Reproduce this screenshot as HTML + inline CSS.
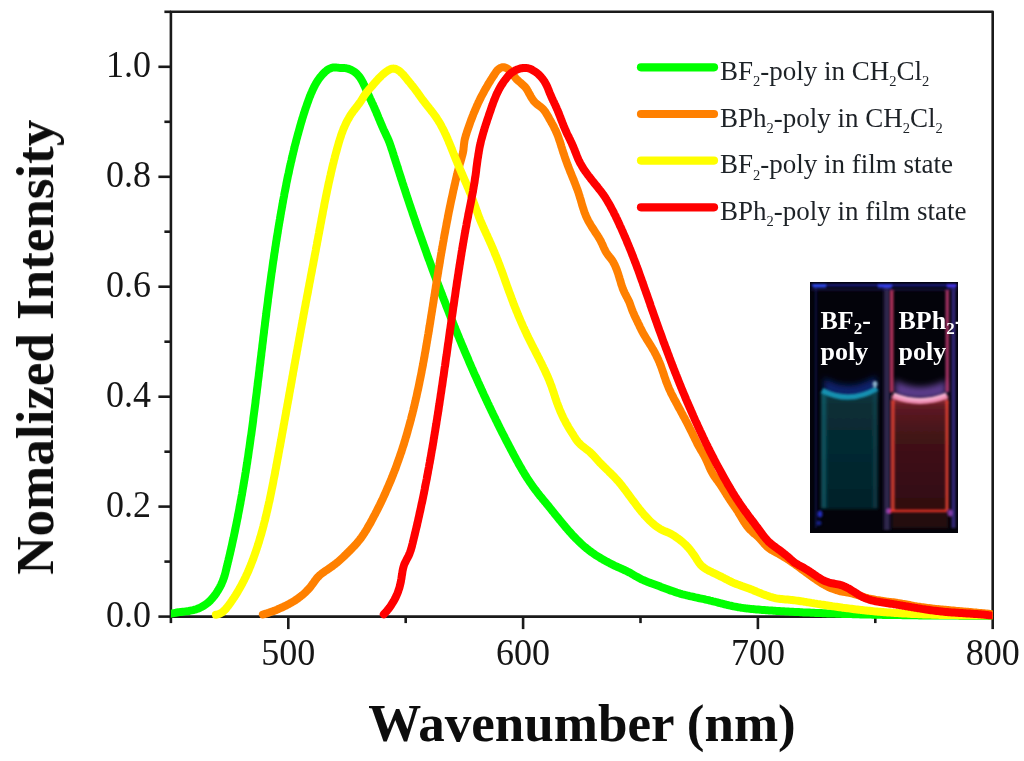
<!DOCTYPE html>
<html><head><meta charset="utf-8">
<style>
html,body{margin:0;padding:0;background:#fff;}
svg{display:block;}
text{font-family:"Liberation Serif",serif;}
.tl{font-size:36px;fill:#141414;}
.leg{font-size:27px;fill:#1e2228;}
.sub{font-size:14.5px;}
.ins{font-size:26px;font-weight:bold;fill:#fff;}
.isub{font-size:17px;}
.ttl{font-size:53px;font-weight:bold;fill:#0a0a0a;}
</style></head>
<body>
<svg width="1024" height="761" viewBox="0 0 1024 761">
<rect width="1024" height="761" fill="#ffffff"/>
<defs><filter id="soft" x="-5%" y="-20%" width="110%" height="140%"><feGaussianBlur stdDeviation="0.45"/></filter><filter id="soft2" x="-2%" y="-2%" width="104%" height="104%"><feGaussianBlur stdDeviation="0.4"/></filter></defs>
<rect x="170.9" y="11.8" width="821.8" height="604.8" fill="none" stroke="#1a1a1a" stroke-width="2.6" stroke-linejoin="round"/>
<g stroke="#1a1a1a" stroke-width="2.6">
<line x1="158.4" y1="616.6" x2="170.9" y2="616.6"/>
<line x1="164.4" y1="561.6" x2="170.9" y2="561.6"/>
<line x1="158.4" y1="506.6" x2="170.9" y2="506.6"/>
<line x1="164.4" y1="451.7" x2="170.9" y2="451.7"/>
<line x1="158.4" y1="396.7" x2="170.9" y2="396.7"/>
<line x1="164.4" y1="341.7" x2="170.9" y2="341.7"/>
<line x1="158.4" y1="286.7" x2="170.9" y2="286.7"/>
<line x1="164.4" y1="231.7" x2="170.9" y2="231.7"/>
<line x1="158.4" y1="176.8" x2="170.9" y2="176.8"/>
<line x1="164.4" y1="121.8" x2="170.9" y2="121.8"/>
<line x1="158.4" y1="66.8" x2="170.9" y2="66.8"/>
<line x1="164.4" y1="11.8" x2="170.9" y2="11.8"/>
<line x1="170.9" y1="616.6" x2="170.9" y2="623.1"/>
<line x1="288.3" y1="616.6" x2="288.3" y2="629.1"/>
<line x1="405.7" y1="616.6" x2="405.7" y2="623.1"/>
<line x1="523.1" y1="616.6" x2="523.1" y2="629.1"/>
<line x1="640.5" y1="616.6" x2="640.5" y2="623.1"/>
<line x1="757.9" y1="616.6" x2="757.9" y2="629.1"/>
<line x1="875.3" y1="616.6" x2="875.3" y2="623.1"/>
<line x1="992.7" y1="616.6" x2="992.7" y2="629.1"/>
</g>
<clipPath id="plotclip"><rect x="170.9" y="0" width="821.8" height="640"/></clipPath>
<g filter="url(#soft2)"><g fill="none" stroke-width="8" stroke-linejoin="round" stroke-linecap="round" clip-path="url(#plotclip)">
<path d="M171.0 613.7 L172.4 613.4 L173.9 613.1 L175.4 612.8 L176.8 612.5 L178.3 612.3 L179.8 612.1 L181.3 612.0 L182.8 611.8 L184.3 611.6 L185.8 611.4 L187.3 611.2 L188.8 611.0 L190.3 610.7 L191.8 610.4 L193.2 610.1 L194.7 609.7 L196.1 609.3 L197.5 608.8 L198.9 608.2 L200.3 607.6 L201.6 606.9 L203.0 606.2 L204.2 605.4 L205.5 604.5 L206.7 603.6 L207.9 602.7 L209.0 601.7 L210.1 600.7 L211.1 599.6 L212.1 598.5 L213.1 597.4 L214.0 596.2 L214.9 595.1 L215.8 593.9 L216.6 592.6 L217.4 591.4 L218.2 590.1 L218.9 588.8 L219.7 587.5 L220.4 586.1 L221.1 584.8 L221.7 583.4 L222.3 582.0 L222.9 580.6 L223.4 579.2 L223.9 577.8 L224.4 576.3 L224.8 574.9 L225.2 573.5 L225.6 572.0 L225.9 570.6 L226.3 569.1 L226.6 567.6 L227.0 566.2 L227.3 564.7 L227.7 563.3 L228.0 561.8 L228.4 560.4 L228.7 558.9 L229.1 557.5 L229.4 556.0 L229.8 554.5 L230.1 553.1 L230.4 551.6 L230.8 550.2 L231.1 548.7 L231.4 547.2 L231.8 545.8 L232.1 544.3 L232.4 542.8 L232.7 541.4 L233.0 539.9 L233.4 538.4 L233.7 537.0 L234.0 535.5 L234.3 534.0 L234.6 532.6 L234.9 531.1 L235.2 529.6 L235.5 528.2 L235.8 526.7 L236.1 525.2 L236.4 523.8 L236.7 522.3 L237.0 520.8 L237.3 519.3 L237.6 517.9 L237.9 516.4 L238.1 514.9 L238.4 513.5 L238.7 512.0 L239.0 510.5 L239.3 509.0 L239.5 507.6 L239.8 506.1 L240.1 504.6 L240.4 503.1 L240.6 501.6 L240.9 500.2 L241.2 498.7 L241.4 497.2 L241.7 495.7 L242.0 494.3 L242.2 492.8 L242.5 491.3 L242.7 489.8 L243.0 488.3 L243.2 486.9 L243.5 485.4 L243.7 483.9 L244.0 482.4 L244.2 480.9 L244.5 479.5 L244.7 478.0 L245.0 476.5 L245.2 475.0 L245.4 473.5 L245.7 472.1 L245.9 470.6 L246.1 469.1 L246.4 467.6 L246.6 466.1 L246.8 464.6 L247.1 463.2 L247.3 461.7 L247.5 460.2 L247.7 458.7 L248.0 457.2 L248.2 455.7 L248.4 454.3 L248.6 452.8 L248.8 451.3 L249.0 449.8 L249.3 448.3 L249.5 446.8 L249.7 445.4 L249.9 443.9 L250.1 442.4 L250.3 440.9 L250.5 439.4 L250.7 437.9 L250.9 436.5 L251.2 435.0 L251.4 433.5 L251.6 432.0 L251.8 430.5 L252.0 429.0 L252.2 427.5 L252.4 426.1 L252.6 424.6 L252.8 423.1 L253.0 421.6 L253.2 420.1 L253.3 418.6 L253.5 417.1 L253.7 415.6 L253.9 414.2 L254.1 412.7 L254.3 411.2 L254.5 409.7 L254.7 408.2 L254.9 406.7 L255.1 405.2 L255.3 403.8 L255.5 402.3 L255.6 400.8 L255.8 399.3 L256.0 397.8 L256.2 396.3 L256.4 394.8 L256.6 393.3 L256.8 391.8 L256.9 390.4 L257.1 388.9 L257.3 387.4 L257.5 385.9 L257.7 384.4 L257.8 382.9 L258.0 381.4 L258.2 379.9 L258.4 378.5 L258.6 377.0 L258.8 375.5 L258.9 374.0 L259.1 372.5 L259.3 371.0 L259.5 369.5 L259.6 368.0 L259.8 366.5 L260.0 365.1 L260.2 363.6 L260.4 362.1 L260.5 360.6 L260.7 359.1 L260.9 357.6 L261.1 356.1 L261.3 354.6 L261.4 353.1 L261.6 351.7 L261.8 350.2 L262.0 348.7 L262.2 347.2 L262.3 345.7 L262.5 344.2 L262.7 342.7 L262.9 341.2 L263.1 339.7 L263.2 338.2 L263.4 336.8 L263.6 335.3 L263.8 333.8 L264.0 332.3 L264.1 330.8 L264.3 329.3 L264.5 327.8 L264.7 326.3 L264.9 324.8 L265.0 323.4 L265.2 321.9 L265.4 320.4 L265.6 318.9 L265.8 317.4 L266.0 315.9 L266.2 314.4 L266.3 312.9 L266.5 311.4 L266.7 310.0 L266.9 308.5 L267.1 307.0 L267.3 305.5 L267.5 304.0 L267.7 302.5 L267.9 301.0 L268.0 299.5 L268.2 298.0 L268.4 296.6 L268.6 295.1 L268.8 293.6 L269.0 292.1 L269.2 290.6 L269.4 289.1 L269.6 287.6 L269.8 286.1 L270.0 284.7 L270.2 283.2 L270.4 281.7 L270.6 280.2 L270.8 278.7 L271.0 277.2 L271.2 275.7 L271.4 274.2 L271.6 272.8 L271.9 271.3 L272.1 269.8 L272.3 268.3 L272.5 266.8 L272.7 265.3 L272.9 263.8 L273.1 262.4 L273.3 260.9 L273.6 259.4 L273.8 257.9 L274.0 256.4 L274.2 254.9 L274.4 253.4 L274.7 252.0 L274.9 250.5 L275.1 249.0 L275.3 247.5 L275.6 246.0 L275.8 244.5 L276.0 243.1 L276.2 241.6 L276.5 240.1 L276.7 238.6 L276.9 237.1 L277.2 235.6 L277.4 234.2 L277.7 232.7 L277.9 231.2 L278.1 229.7 L278.4 228.2 L278.6 226.8 L278.9 225.3 L279.1 223.8 L279.4 222.3 L279.6 220.8 L279.9 219.4 L280.1 217.9 L280.4 216.4 L280.6 214.9 L280.9 213.5 L281.1 212.0 L281.4 210.5 L281.7 209.0 L281.9 207.6 L282.2 206.1 L282.4 204.6 L282.7 203.1 L283.0 201.7 L283.2 200.2 L283.5 198.7 L283.8 197.2 L284.1 195.8 L284.3 194.3 L284.6 192.8 L284.9 191.4 L285.2 189.9 L285.5 188.4 L285.8 186.9 L286.1 185.5 L286.3 184.0 L286.6 182.5 L286.9 181.1 L287.2 179.6 L287.5 178.1 L287.8 176.7 L288.1 175.2 L288.5 173.7 L288.8 172.3 L289.1 170.8 L289.4 169.3 L289.7 167.9 L290.0 166.4 L290.4 164.9 L290.7 163.5 L291.0 162.0 L291.4 160.6 L291.7 159.1 L292.0 157.6 L292.4 156.2 L292.7 154.7 L293.1 153.3 L293.4 151.8 L293.8 150.4 L294.1 148.9 L294.5 147.4 L294.8 146.0 L295.2 144.5 L295.6 143.1 L296.0 141.6 L296.3 140.2 L296.7 138.7 L297.1 137.3 L297.5 135.8 L297.9 134.4 L298.3 132.9 L298.7 131.5 L299.1 130.0 L299.5 128.6 L299.9 127.1 L300.3 125.7 L300.7 124.2 L301.1 122.8 L301.6 121.3 L302.0 119.9 L302.4 118.4 L302.9 117.0 L303.3 115.6 L303.8 114.1 L304.2 112.7 L304.7 111.3 L305.1 109.8 L305.6 108.4 L306.1 107.0 L306.6 105.6 L307.1 104.1 L307.6 102.7 L308.1 101.3 L308.6 99.9 L309.1 98.5 L309.6 97.1 L310.2 95.8 L310.7 94.4 L311.3 93.0 L311.9 91.7 L312.5 90.3 L313.1 89.0 L313.8 87.6 L314.4 86.3 L315.1 85.0 L315.9 83.7 L316.6 82.4 L317.4 81.1 L318.3 79.8 L319.1 78.6 L320.0 77.4 L321.0 76.2 L322.0 75.0 L323.0 73.9 L324.1 72.8 L325.2 71.7 L326.4 70.7 L327.6 69.8 L328.9 69.1 L330.2 68.4 L331.5 67.9 L332.9 67.5 L334.3 67.4 L335.8 67.4 L337.3 67.6 L338.8 67.8 L340.3 67.9 L341.8 68.0 L343.3 68.0 L344.9 68.1 L346.4 68.3 L347.8 68.6 L349.3 69.1 L350.7 69.7 L352.0 70.3 L353.3 71.1 L354.6 71.9 L355.7 72.8 L356.8 73.8 L357.8 74.9 L358.8 76.0 L359.7 77.1 L360.5 78.3 L361.3 79.6 L362.0 80.9 L362.7 82.2 L363.4 83.5 L364.0 84.9 L364.7 86.3 L365.3 87.6 L365.9 89.0 L366.5 90.4 L367.1 91.8 L367.7 93.2 L368.3 94.6 L369.0 96.0 L369.6 97.4 L370.2 98.8 L370.9 100.1 L371.5 101.5 L372.1 102.9 L372.8 104.2 L373.4 105.6 L374.0 106.9 L374.6 108.3 L375.2 109.7 L375.8 111.0 L376.4 112.4 L376.9 113.8 L377.5 115.1 L378.1 116.5 L378.6 117.9 L379.2 119.2 L379.8 120.6 L380.3 122.0 L380.9 123.3 L381.5 124.7 L382.1 126.1 L382.7 127.5 L383.3 128.9 L383.9 130.2 L384.6 131.6 L385.2 133.0 L385.9 134.4 L386.5 135.8 L387.2 137.2 L387.8 138.5 L388.4 139.9 L389.0 141.3 L389.5 142.7 L390.0 144.1 L390.5 145.5 L391.0 146.9 L391.4 148.3 L391.9 149.7 L392.4 151.1 L392.8 152.5 L393.3 153.9 L393.7 155.4 L394.2 156.8 L394.6 158.2 L395.1 159.6 L395.5 161.0 L396.0 162.5 L396.5 163.9 L396.9 165.3 L397.4 166.7 L397.8 168.1 L398.3 169.6 L398.7 171.0 L399.2 172.4 L399.7 173.9 L400.1 175.3 L400.6 176.7 L401.0 178.2 L401.5 179.6 L402.0 181.0 L402.4 182.4 L402.9 183.9 L403.4 185.3 L403.8 186.7 L404.3 188.2 L404.8 189.6 L405.2 191.0 L405.7 192.5 L406.2 193.9 L406.6 195.3 L407.1 196.7 L407.6 198.2 L408.1 199.6 L408.5 201.0 L409.0 202.4 L409.5 203.9 L410.0 205.3 L410.4 206.7 L410.9 208.1 L411.4 209.6 L411.9 211.0 L412.4 212.4 L412.8 213.8 L413.3 215.3 L413.8 216.7 L414.3 218.1 L414.8 219.5 L415.3 220.9 L415.7 222.3 L416.2 223.8 L416.7 225.2 L417.2 226.6 L417.7 228.0 L418.2 229.4 L418.7 230.9 L419.2 232.3 L419.7 233.7 L420.2 235.1 L420.7 236.5 L421.2 237.9 L421.7 239.3 L422.2 240.8 L422.7 242.2 L423.2 243.6 L423.7 245.0 L424.2 246.4 L424.7 247.8 L425.2 249.2 L425.7 250.6 L426.2 252.0 L426.7 253.5 L427.2 254.9 L427.7 256.3 L428.2 257.7 L428.7 259.1 L429.3 260.5 L429.8 261.9 L430.3 263.3 L430.8 264.7 L431.3 266.1 L431.8 267.5 L432.3 268.9 L432.9 270.4 L433.4 271.8 L433.9 273.2 L434.4 274.6 L434.9 276.0 L435.5 277.4 L436.0 278.8 L436.5 280.2 L437.0 281.6 L437.6 283.0 L438.1 284.4 L438.6 285.8 L439.2 287.2 L439.7 288.6 L440.2 290.0 L440.8 291.4 L441.3 292.8 L441.8 294.2 L442.4 295.6 L442.9 297.0 L443.4 298.4 L444.0 299.8 L444.5 301.2 L445.1 302.6 L445.6 304.0 L446.1 305.4 L446.7 306.8 L447.2 308.2 L447.8 309.6 L448.3 311.0 L448.9 312.4 L449.4 313.8 L450.0 315.2 L450.5 316.6 L451.1 318.0 L451.6 319.4 L452.2 320.8 L452.7 322.2 L453.3 323.6 L453.9 325.0 L454.4 326.3 L455.0 327.7 L455.5 329.1 L456.1 330.5 L456.7 331.9 L457.2 333.3 L457.8 334.7 L458.4 336.1 L459.0 337.5 L459.5 338.9 L460.1 340.2 L460.7 341.6 L461.2 343.0 L461.8 344.4 L462.4 345.8 L463.0 347.2 L463.6 348.6 L464.1 349.9 L464.7 351.3 L465.3 352.7 L465.9 354.1 L466.5 355.5 L467.1 356.8 L467.7 358.2 L468.3 359.6 L468.8 361.0 L469.4 362.4 L470.0 363.7 L470.6 365.1 L471.2 366.5 L471.8 367.9 L472.4 369.2 L473.0 370.6 L473.6 372.0 L474.2 373.4 L474.8 374.7 L475.5 376.1 L476.1 377.5 L476.7 378.8 L477.3 380.2 L477.9 381.6 L478.5 382.9 L479.1 384.3 L479.8 385.7 L480.4 387.0 L481.0 388.4 L481.6 389.8 L482.2 391.1 L482.9 392.5 L483.5 393.9 L484.1 395.2 L484.8 396.6 L485.4 397.9 L486.0 399.3 L486.7 400.7 L487.3 402.0 L487.9 403.4 L488.6 404.7 L489.2 406.1 L489.9 407.4 L490.5 408.8 L491.2 410.2 L491.8 411.5 L492.5 412.9 L493.1 414.2 L493.8 415.6 L494.4 416.9 L495.1 418.2 L495.7 419.6 L496.4 420.9 L497.1 422.3 L497.7 423.6 L498.4 425.0 L499.1 426.3 L499.7 427.7 L500.4 429.0 L501.1 430.3 L501.7 431.7 L502.4 433.0 L503.1 434.3 L503.8 435.7 L504.5 437.0 L505.1 438.3 L505.8 439.7 L506.5 441.0 L507.2 442.3 L507.9 443.7 L508.6 445.0 L509.3 446.3 L510.0 447.7 L510.7 449.0 L511.4 450.3 L512.1 451.6 L512.8 453.0 L513.5 454.3 L514.2 455.6 L514.9 456.9 L515.6 458.2 L516.3 459.5 L517.1 460.9 L517.8 462.2 L518.5 463.5 L519.2 464.8 L520.0 466.1 L520.7 467.4 L521.5 468.7 L522.2 470.0 L523.0 471.3 L523.8 472.6 L524.5 473.8 L525.3 475.1 L526.1 476.4 L526.9 477.7 L527.7 478.9 L528.6 480.2 L529.4 481.4 L530.2 482.7 L531.1 483.9 L531.9 485.1 L532.8 486.4 L533.7 487.6 L534.6 488.8 L535.5 490.0 L536.4 491.2 L537.3 492.4 L538.2 493.6 L539.2 494.8 L540.1 496.0 L541.1 497.1 L542.1 498.3 L543.0 499.5 L544.0 500.6 L544.9 501.8 L545.9 502.9 L546.8 504.1 L547.8 505.2 L548.7 506.4 L549.6 507.5 L550.6 508.7 L551.5 509.8 L552.4 511.0 L553.4 512.1 L554.3 513.3 L555.2 514.5 L556.2 515.6 L557.1 516.8 L558.0 517.9 L559.0 519.1 L559.9 520.3 L560.9 521.4 L561.8 522.6 L562.8 523.7 L563.7 524.9 L564.7 526.0 L565.6 527.2 L566.6 528.3 L567.6 529.5 L568.6 530.6 L569.6 531.7 L570.6 532.8 L571.6 534.0 L572.6 535.1 L573.6 536.2 L574.6 537.2 L575.7 538.3 L576.7 539.4 L577.8 540.4 L578.9 541.5 L580.0 542.5 L581.1 543.6 L582.2 544.6 L583.3 545.6 L584.4 546.6 L585.6 547.5 L586.7 548.5 L587.9 549.4 L589.1 550.4 L590.3 551.3 L591.5 552.2 L592.7 553.0 L594.0 553.9 L595.2 554.8 L596.5 555.6 L597.8 556.4 L599.1 557.2 L600.4 558.0 L601.7 558.8 L603.0 559.5 L604.3 560.3 L605.6 561.0 L606.9 561.7 L608.3 562.4 L609.6 563.1 L611.0 563.8 L612.3 564.5 L613.6 565.1 L615.0 565.8 L616.3 566.4 L617.6 567.0 L619.0 567.6 L620.3 568.2 L621.6 568.8 L623.0 569.4 L624.3 570.0 L625.6 570.6 L626.9 571.2 L628.2 571.9 L629.6 572.6 L630.9 573.3 L632.2 574.1 L633.5 574.9 L634.9 575.7 L636.2 576.4 L637.5 577.2 L638.9 577.9 L640.2 578.6 L641.6 579.3 L642.9 579.9 L644.3 580.5 L645.7 581.1 L647.0 581.7 L648.4 582.2 L649.8 582.7 L651.2 583.3 L652.6 583.8 L654.0 584.3 L655.4 584.8 L656.8 585.3 L658.2 585.8 L659.6 586.3 L661.0 586.9 L662.4 587.4 L663.8 587.9 L665.3 588.5 L666.7 589.0 L668.1 589.5 L669.5 590.1 L671.0 590.6 L672.4 591.1 L673.8 591.6 L675.3 592.1 L676.7 592.6 L678.1 593.0 L679.6 593.4 L681.0 593.9 L682.5 594.3 L683.9 594.6 L685.4 595.0 L686.8 595.4 L688.2 595.7 L689.7 596.1 L691.1 596.4 L692.6 596.7 L694.0 597.0 L695.5 597.4 L696.9 597.7 L698.4 598.0 L699.8 598.3 L701.3 598.6 L702.8 598.9 L704.2 599.2 L705.7 599.6 L707.1 599.9 L708.6 600.2 L710.0 600.6 L711.5 600.9 L713.0 601.3 L714.4 601.6 L715.9 602.0 L717.4 602.4 L718.8 602.8 L720.3 603.2 L721.7 603.5 L723.2 603.9 L724.7 604.3 L726.2 604.7 L727.6 605.0 L729.1 605.4 L730.6 605.7 L732.0 606.0 L733.5 606.4 L735.0 606.6 L736.5 606.9 L737.9 607.2 L739.4 607.4 L740.9 607.7 L742.4 607.9 L743.8 608.1 L745.3 608.3 L746.8 608.4 L748.3 608.6 L749.7 608.8 L751.2 608.9 L752.7 609.1 L754.2 609.2 L755.7 609.4 L757.2 609.5 L758.6 609.6 L760.1 609.7 L761.6 609.9 L763.1 610.0 L764.6 610.1 L766.1 610.2 L767.6 610.3 L769.0 610.4 L770.5 610.5 L772.0 610.6 L773.5 610.7 L775.0 610.8 L776.5 610.9 L778.0 611.0 L779.5 611.1 L781.0 611.2 L782.5 611.2 L783.9 611.3 L785.4 611.4 L786.9 611.5 L788.4 611.6 L789.9 611.7 L791.4 611.7 L792.9 611.8 L794.4 611.9 L795.9 612.0 L797.4 612.1 L798.9 612.1 L800.4 612.2 L801.9 612.3 L803.4 612.4 L804.9 612.4 L806.4 612.5 L807.9 612.6 L809.4 612.6 L810.9 612.7 L812.4 612.8 L813.9 612.8 L815.4 612.9 L816.9 613.0 L818.4 613.0 L819.9 613.1 L821.4 613.1 L822.9 613.2 L824.4 613.3 L825.9 613.3 L827.4 613.4 L828.9 613.4 L830.4 613.5 L831.9 613.5 L833.4 613.6 L834.9 613.6 L836.4 613.7 L837.9 613.7 L839.4 613.8 L840.9 613.8 L842.4 613.9 L843.9 613.9 L845.4 614.0 L847.0 614.0 L848.5 614.1 L850.0 614.1 L851.5 614.1 L853.0 614.2 L854.5 614.2 L856.0 614.3 L857.5 614.3 L859.0 614.3 L860.5 614.4 L862.0 614.4 L863.5 614.5 L865.0 614.5 L866.5 614.5 L868.0 614.6 L869.5 614.6 L871.0 614.6 L872.6 614.7 L874.1 614.7 L875.6 614.7 L877.1 614.7 L878.6 614.8 L880.1 614.8 L881.6 614.8 L883.1 614.9 L884.6 614.9 L886.1 614.9 L887.6 614.9 L889.1 615.0 L890.6 615.0 L892.1 615.0 L893.6 615.0 L895.1 615.1 L896.6 615.1 L898.1 615.1 L899.7 615.1 L901.2 615.1 L902.7 615.2 L904.2 615.2 L905.7 615.2 L907.2 615.2 L908.7 615.2 L910.2 615.3 L911.7 615.3 L913.2 615.3 L914.7 615.3 L916.2 615.3 L917.7 615.3 L919.2 615.4 L920.7 615.4 L922.2 615.4 L923.7 615.4 L925.2 615.4 L926.7 615.4 L928.2 615.4 L929.7 615.5 L931.2 615.5 L932.7 615.5 L934.2 615.5 L935.7 615.5 L937.2 615.5 L938.7 615.5 L940.2 615.5 L941.7 615.5 L943.2 615.6 L944.7 615.6 L946.2 615.6 L947.7 615.6 L949.2 615.6 L950.7 615.6 L952.2 615.6 L953.7 615.6 L955.1 615.6 L956.6 615.6 L958.1 615.6 L959.6 615.7 L961.1 615.7 L962.6 615.7 L964.1 615.7 L965.6 615.7 L967.1 615.7 L968.6 615.7 L970.1 615.7 L971.5 615.7 L973.0 615.7 L974.5 615.7 L976.0 615.7 L977.5 615.7 L979.0 615.8 L980.5 615.8 L981.9 615.8 L983.4 615.8 L984.9 615.8 L986.4 615.8 L987.9 615.8 L989.4 615.8 L990.8 615.8 L990.9 615.8" stroke="#00ff00"/>
<path d="M262.9 614.5 L264.3 614.1 L265.8 613.7 L267.2 613.2 L268.6 612.8 L270.0 612.3 L271.4 611.8 L272.9 611.3 L274.3 610.7 L275.7 610.2 L277.1 609.6 L278.4 609.0 L279.8 608.4 L281.2 607.8 L282.6 607.2 L283.9 606.5 L285.3 605.9 L286.6 605.2 L287.9 604.5 L289.3 603.8 L290.6 603.1 L291.9 602.3 L293.1 601.6 L294.4 600.8 L295.7 600.0 L296.9 599.1 L298.1 598.3 L299.3 597.4 L300.5 596.5 L301.7 595.5 L302.9 594.6 L304.0 593.6 L305.1 592.6 L306.2 591.5 L307.2 590.4 L308.3 589.3 L309.3 588.2 L310.3 587.1 L311.2 585.9 L312.1 584.7 L313.0 583.5 L313.9 582.2 L314.7 581.0 L315.6 579.8 L316.5 578.6 L317.4 577.5 L318.5 576.5 L319.5 575.4 L320.6 574.5 L321.8 573.5 L323.0 572.6 L324.2 571.8 L325.4 570.9 L326.7 570.1 L328.0 569.2 L329.2 568.4 L330.5 567.5 L331.7 566.7 L332.9 565.8 L334.1 564.9 L335.3 564.0 L336.5 563.0 L337.7 562.1 L338.8 561.1 L339.9 560.1 L341.0 559.1 L342.1 558.1 L343.2 557.1 L344.3 556.0 L345.4 555.0 L346.5 553.9 L347.5 552.9 L348.6 551.8 L349.7 550.8 L350.7 549.7 L351.8 548.6 L352.8 547.5 L353.9 546.4 L354.9 545.4 L355.9 544.2 L356.9 543.1 L357.8 542.0 L358.8 540.8 L359.7 539.7 L360.6 538.5 L361.5 537.3 L362.4 536.0 L363.2 534.8 L364.0 533.6 L364.8 532.3 L365.6 531.1 L366.4 529.8 L367.2 528.5 L367.9 527.2 L368.7 525.9 L369.4 524.6 L370.2 523.3 L370.9 522.0 L371.6 520.7 L372.3 519.4 L373.0 518.0 L373.7 516.7 L374.4 515.4 L375.1 514.1 L375.8 512.7 L376.5 511.4 L377.2 510.0 L377.9 508.7 L378.5 507.4 L379.2 506.0 L379.9 504.7 L380.5 503.3 L381.2 502.0 L381.8 500.6 L382.5 499.2 L383.1 497.9 L383.7 496.5 L384.4 495.1 L385.0 493.8 L385.6 492.4 L386.2 491.0 L386.8 489.6 L387.4 488.3 L388.0 486.9 L388.6 485.5 L389.2 484.1 L389.8 482.7 L390.4 481.3 L391.0 480.0 L391.5 478.6 L392.1 477.2 L392.6 475.8 L393.2 474.4 L393.7 473.0 L394.3 471.6 L394.8 470.2 L395.4 468.8 L395.9 467.4 L396.4 466.0 L396.9 464.5 L397.4 463.1 L397.9 461.7 L398.4 460.3 L398.9 458.9 L399.4 457.5 L399.9 456.1 L400.4 454.6 L400.9 453.2 L401.4 451.8 L401.8 450.4 L402.3 449.0 L402.7 447.5 L403.2 446.1 L403.7 444.7 L404.1 443.3 L404.5 441.8 L405.0 440.4 L405.4 439.0 L405.8 437.5 L406.3 436.1 L406.7 434.7 L407.1 433.2 L407.5 431.8 L407.9 430.3 L408.3 428.9 L408.7 427.5 L409.1 426.0 L409.5 424.6 L409.9 423.1 L410.3 421.7 L410.7 420.2 L411.1 418.8 L411.4 417.3 L411.8 415.9 L412.2 414.4 L412.6 413.0 L412.9 411.5 L413.3 410.1 L413.6 408.6 L414.0 407.2 L414.3 405.7 L414.7 404.3 L415.0 402.8 L415.4 401.3 L415.7 399.9 L416.0 398.4 L416.4 397.0 L416.7 395.5 L417.0 394.0 L417.3 392.6 L417.6 391.1 L418.0 389.6 L418.3 388.2 L418.6 386.7 L418.9 385.2 L419.2 383.8 L419.5 382.3 L419.8 380.8 L420.1 379.4 L420.4 377.9 L420.7 376.4 L421.0 375.0 L421.3 373.5 L421.6 372.0 L421.8 370.5 L422.1 369.1 L422.4 367.6 L422.7 366.1 L423.0 364.6 L423.2 363.2 L423.5 361.7 L423.8 360.2 L424.0 358.7 L424.3 357.3 L424.6 355.8 L424.8 354.3 L425.1 352.8 L425.4 351.3 L425.6 349.9 L425.9 348.4 L426.1 346.9 L426.4 345.4 L426.6 343.9 L426.9 342.5 L427.1 341.0 L427.4 339.5 L427.6 338.0 L427.9 336.5 L428.1 335.0 L428.4 333.6 L428.6 332.1 L428.9 330.6 L429.1 329.1 L429.3 327.6 L429.6 326.1 L429.8 324.7 L430.1 323.2 L430.3 321.7 L430.5 320.2 L430.8 318.7 L431.0 317.2 L431.2 315.8 L431.5 314.3 L431.7 312.8 L432.0 311.3 L432.2 309.8 L432.4 308.3 L432.7 306.8 L432.9 305.4 L433.1 303.9 L433.4 302.4 L433.6 300.9 L433.8 299.4 L434.1 297.9 L434.3 296.5 L434.5 295.0 L434.8 293.5 L435.0 292.0 L435.2 290.5 L435.5 289.0 L435.7 287.6 L435.9 286.1 L436.2 284.6 L436.4 283.1 L436.6 281.6 L436.9 280.2 L437.1 278.7 L437.3 277.2 L437.6 275.7 L437.8 274.2 L438.1 272.8 L438.3 271.3 L438.5 269.8 L438.8 268.3 L439.0 266.8 L439.3 265.4 L439.5 263.9 L439.8 262.4 L440.0 260.9 L440.2 259.4 L440.5 258.0 L440.7 256.5 L441.0 255.0 L441.2 253.5 L441.5 252.1 L441.7 250.6 L442.0 249.1 L442.3 247.6 L442.5 246.2 L442.8 244.7 L443.0 243.2 L443.3 241.7 L443.6 240.3 L443.8 238.8 L444.1 237.3 L444.3 235.9 L444.6 234.4 L444.9 232.9 L445.2 231.4 L445.4 230.0 L445.7 228.5 L446.0 227.0 L446.3 225.5 L446.5 224.1 L446.8 222.6 L447.1 221.1 L447.4 219.7 L447.7 218.2 L447.9 216.7 L448.2 215.3 L448.5 213.8 L448.8 212.3 L449.1 210.8 L449.4 209.4 L449.7 207.9 L450.0 206.4 L450.3 205.0 L450.6 203.5 L450.9 202.0 L451.2 200.6 L451.5 199.1 L451.9 197.6 L452.2 196.2 L452.5 194.7 L452.8 193.2 L453.1 191.8 L453.4 190.3 L453.8 188.8 L454.1 187.4 L454.4 185.9 L454.8 184.4 L455.1 183.0 L455.4 181.5 L455.8 180.0 L456.1 178.6 L456.5 177.1 L456.8 175.6 L457.2 174.2 L457.5 172.7 L457.9 171.3 L458.3 169.8 L458.7 168.3 L459.0 166.9 L459.4 165.4 L459.8 163.9 L460.3 162.5 L460.7 161.0 L461.1 159.6 L461.5 158.1 L461.9 156.7 L462.3 155.2 L462.7 153.7 L463.0 152.3 L463.3 150.8 L463.5 149.4 L463.6 147.9 L463.8 146.5 L463.9 145.0 L464.1 143.6 L464.3 142.1 L464.5 140.7 L464.8 139.2 L465.2 137.8 L465.6 136.4 L466.0 134.9 L466.5 133.5 L466.9 132.0 L467.4 130.6 L467.9 129.2 L468.4 127.7 L468.9 126.3 L469.4 124.9 L469.9 123.4 L470.4 122.0 L470.9 120.6 L471.5 119.2 L472.0 117.8 L472.5 116.4 L473.1 114.9 L473.6 113.5 L474.2 112.2 L474.8 110.8 L475.4 109.4 L476.0 108.0 L476.6 106.6 L477.2 105.2 L477.8 103.9 L478.4 102.5 L479.1 101.2 L479.7 99.8 L480.4 98.5 L481.0 97.2 L481.7 95.9 L482.4 94.6 L483.1 93.3 L483.8 92.0 L484.5 90.7 L485.2 89.4 L486.0 88.1 L486.7 86.8 L487.5 85.5 L488.2 84.2 L489.0 82.9 L489.8 81.7 L490.6 80.3 L491.4 79.0 L492.3 77.7 L493.1 76.4 L494.0 75.1 L494.8 73.8 L495.7 72.5 L496.5 71.3 L497.4 70.2 L498.5 69.3 L499.6 68.4 L500.8 67.7 L502.1 67.3 L503.5 67.2 L504.9 67.5 L506.2 68.0 L507.6 68.8 L508.8 69.7 L509.9 70.8 L511.0 71.9 L511.9 73.1 L512.9 74.4 L513.8 75.6 L514.7 76.9 L515.6 78.1 L516.6 79.2 L517.7 80.2 L518.8 81.3 L520.0 82.3 L521.1 83.2 L522.2 84.2 L523.3 85.2 L524.4 86.2 L525.4 87.3 L526.3 88.5 L527.1 89.7 L527.8 90.9 L528.5 92.3 L529.2 93.6 L530.0 94.9 L530.7 96.3 L531.5 97.6 L532.3 98.9 L533.1 100.1 L534.0 101.3 L535.0 102.4 L536.1 103.4 L537.2 104.3 L538.4 105.2 L539.6 106.1 L540.8 107.0 L542.0 108.0 L543.0 109.0 L544.0 110.1 L544.9 111.3 L545.7 112.5 L546.5 113.8 L547.3 115.1 L548.0 116.4 L548.8 117.7 L549.5 119.1 L550.3 120.4 L551.0 121.7 L551.7 123.0 L552.5 124.3 L553.2 125.6 L553.9 126.9 L554.5 128.3 L555.2 129.6 L555.8 131.0 L556.4 132.3 L557.0 133.7 L557.6 135.1 L558.1 136.5 L558.6 137.9 L559.1 139.4 L559.6 140.8 L560.1 142.2 L560.5 143.7 L561.0 145.1 L561.4 146.6 L561.9 148.0 L562.3 149.4 L562.8 150.9 L563.2 152.3 L563.7 153.7 L564.2 155.1 L564.6 156.5 L565.1 157.9 L565.6 159.3 L566.1 160.7 L566.6 162.1 L567.1 163.5 L567.6 164.8 L568.1 166.2 L568.7 167.6 L569.2 169.0 L569.8 170.4 L570.3 171.8 L570.9 173.2 L571.5 174.6 L572.0 176.0 L572.6 177.4 L573.2 178.8 L573.8 180.2 L574.3 181.7 L574.9 183.1 L575.4 184.5 L576.0 185.9 L576.5 187.4 L577.1 188.8 L577.6 190.2 L578.1 191.6 L578.6 193.1 L579.0 194.5 L579.5 195.9 L579.9 197.4 L580.4 198.8 L580.8 200.2 L581.2 201.6 L581.6 203.0 L582.0 204.5 L582.4 205.9 L582.9 207.3 L583.3 208.7 L583.8 210.1 L584.2 211.5 L584.7 212.8 L585.3 214.2 L585.8 215.6 L586.4 217.0 L587.1 218.3 L587.7 219.7 L588.4 221.0 L589.2 222.4 L589.9 223.7 L590.7 225.0 L591.5 226.3 L592.3 227.6 L593.2 228.9 L594.0 230.2 L594.8 231.5 L595.6 232.7 L596.5 234.0 L597.3 235.2 L598.1 236.5 L598.8 237.7 L599.6 239.0 L600.3 240.2 L601.0 241.5 L601.6 242.9 L602.3 244.2 L602.9 245.6 L603.5 247.0 L604.1 248.4 L604.8 249.7 L605.5 251.1 L606.2 252.4 L607.0 253.6 L607.9 254.8 L608.8 256.0 L609.7 257.2 L610.7 258.3 L611.6 259.5 L612.4 260.7 L613.2 262.0 L613.9 263.3 L614.6 264.6 L615.2 266.0 L615.8 267.4 L616.4 268.8 L616.9 270.2 L617.4 271.6 L617.9 273.1 L618.4 274.5 L618.8 276.0 L619.3 277.4 L619.7 278.9 L620.2 280.3 L620.6 281.7 L621.0 283.2 L621.4 284.6 L621.9 286.0 L622.4 287.4 L622.8 288.7 L623.4 290.1 L624.0 291.5 L624.6 292.8 L625.3 294.2 L626.0 295.5 L626.7 296.9 L627.4 298.2 L628.1 299.6 L628.8 301.0 L629.4 302.3 L629.9 303.7 L630.4 305.1 L630.9 306.5 L631.4 307.9 L631.9 309.3 L632.4 310.7 L633.0 312.1 L633.6 313.4 L634.2 314.8 L634.8 316.2 L635.5 317.6 L636.2 319.0 L636.8 320.4 L637.5 321.7 L638.1 323.1 L638.8 324.4 L639.4 325.7 L640.0 327.1 L640.7 328.4 L641.3 329.7 L642.0 331.0 L642.7 332.3 L643.4 333.6 L644.1 334.9 L644.9 336.2 L645.7 337.5 L646.5 338.8 L647.3 340.1 L648.1 341.4 L648.9 342.7 L649.7 344.0 L650.5 345.2 L651.3 346.5 L652.1 347.8 L652.8 349.1 L653.6 350.4 L654.3 351.7 L655.0 353.0 L655.7 354.3 L656.4 355.7 L657.0 357.0 L657.7 358.3 L658.3 359.7 L658.9 361.1 L659.5 362.4 L660.0 363.8 L660.6 365.2 L661.1 366.6 L661.6 368.0 L662.1 369.5 L662.6 370.9 L663.1 372.3 L663.6 373.7 L664.0 375.2 L664.5 376.6 L665.0 378.0 L665.5 379.4 L666.0 380.9 L666.5 382.3 L667.1 383.7 L667.6 385.1 L668.2 386.5 L668.7 387.8 L669.3 389.2 L670.0 390.6 L670.6 391.9 L671.2 393.3 L671.9 394.6 L672.6 395.9 L673.3 397.3 L673.9 398.6 L674.6 399.9 L675.4 401.2 L676.1 402.5 L676.8 403.8 L677.5 405.2 L678.2 406.5 L678.9 407.8 L679.7 409.1 L680.4 410.4 L681.1 411.8 L681.8 413.1 L682.5 414.4 L683.2 415.8 L684.0 417.1 L684.7 418.4 L685.4 419.8 L686.1 421.1 L686.8 422.4 L687.5 423.8 L688.2 425.1 L688.8 426.4 L689.5 427.8 L690.2 429.1 L690.9 430.5 L691.6 431.8 L692.2 433.1 L692.9 434.5 L693.5 435.8 L694.2 437.1 L694.8 438.5 L695.5 439.8 L696.1 441.1 L696.8 442.4 L697.4 443.8 L698.1 445.1 L698.8 446.4 L699.6 447.7 L700.3 449.0 L701.1 450.4 L701.9 451.7 L702.7 453.0 L703.4 454.3 L704.2 455.7 L704.9 457.0 L705.5 458.3 L706.2 459.7 L706.8 461.0 L707.4 462.4 L708.0 463.7 L708.6 465.1 L709.1 466.4 L709.7 467.8 L710.3 469.1 L711.0 470.5 L711.7 471.8 L712.4 473.1 L713.1 474.4 L713.9 475.7 L714.8 477.0 L715.7 478.2 L716.6 479.5 L717.5 480.7 L718.4 481.9 L719.3 483.2 L720.1 484.4 L720.9 485.6 L721.8 486.9 L722.6 488.1 L723.3 489.4 L724.1 490.6 L724.9 491.8 L725.7 493.1 L726.4 494.3 L727.2 495.6 L728.0 496.8 L728.8 498.1 L729.6 499.3 L730.5 500.6 L731.3 501.8 L732.2 503.1 L733.0 504.4 L733.9 505.6 L734.8 506.9 L735.7 508.2 L736.5 509.5 L737.4 510.7 L738.2 512.0 L738.9 513.3 L739.7 514.6 L740.5 515.9 L741.2 517.2 L742.0 518.5 L742.7 519.7 L743.5 521.0 L744.3 522.2 L745.1 523.4 L745.9 524.7 L746.8 525.9 L747.7 527.0 L748.7 528.2 L749.7 529.3 L750.8 530.4 L751.9 531.4 L753.0 532.5 L754.1 533.5 L755.3 534.4 L756.4 535.4 L757.5 536.4 L758.6 537.4 L759.6 538.4 L760.6 539.5 L761.6 540.6 L762.6 541.8 L763.6 542.9 L764.6 544.1 L765.7 545.2 L766.8 546.3 L767.9 547.4 L769.1 548.3 L770.2 549.1 L771.4 549.9 L772.7 550.6 L773.9 551.3 L775.2 552.0 L776.5 552.7 L777.9 553.4 L779.2 554.2 L780.5 554.9 L781.9 555.7 L783.2 556.5 L784.5 557.3 L785.8 558.1 L787.1 558.9 L788.3 559.7 L789.6 560.5 L790.8 561.4 L792.0 562.2 L793.2 563.1 L794.5 563.9 L795.7 564.8 L796.9 565.7 L798.1 566.5 L799.3 567.4 L800.5 568.3 L801.7 569.2 L802.9 570.1 L804.1 570.9 L805.3 571.8 L806.5 572.7 L807.7 573.6 L808.9 574.5 L810.1 575.4 L811.3 576.2 L812.5 577.1 L813.8 578.0 L815.0 578.9 L816.3 579.7 L817.5 580.6 L818.8 581.4 L820.0 582.2 L821.3 583.0 L822.6 583.8 L823.9 584.6 L825.2 585.3 L826.6 586.0 L827.9 586.7 L829.2 587.4 L830.6 588.0 L832.0 588.6 L833.4 589.1 L834.8 589.6 L836.2 590.1 L837.7 590.5 L839.1 590.9 L840.5 591.3 L842.0 591.6 L843.4 591.9 L844.9 592.1 L846.3 592.3 L847.8 592.6 L849.3 592.8 L850.7 593.1 L852.2 593.5 L853.6 593.9 L855.1 594.3 L856.6 594.7 L858.0 595.2 L859.5 595.6 L860.9 596.1 L862.4 596.6 L863.8 597.0 L865.3 597.5 L866.7 597.9 L868.2 598.3 L869.7 598.6 L871.1 598.9 L872.6 599.3 L874.1 599.5 L875.5 599.8 L877.0 600.1 L878.5 600.3 L879.9 600.5 L881.4 600.8 L882.9 601.0 L884.3 601.2 L885.8 601.4 L887.3 601.6 L888.8 601.8 L890.2 601.9 L891.7 602.1 L893.2 602.3 L894.7 602.5 L896.1 602.7 L897.6 603.0 L899.1 603.2 L900.6 603.4 L902.1 603.7 L903.5 603.9 L905.0 604.2 L906.5 604.5 L908.0 604.8 L909.5 605.0 L910.9 605.3 L912.4 605.6 L913.9 605.9 L915.4 606.1 L916.9 606.4 L918.4 606.6 L919.9 606.8 L921.3 607.1 L922.8 607.3 L924.3 607.5 L925.8 607.7 L927.3 607.9 L928.8 608.1 L930.3 608.2 L931.8 608.4 L933.3 608.6 L934.8 608.8 L936.2 608.9 L937.7 609.1 L939.2 609.2 L940.7 609.4 L942.2 609.5 L943.7 609.7 L945.2 609.8 L946.7 610.0 L948.2 610.1 L949.7 610.2 L951.2 610.4 L952.7 610.5 L954.2 610.6 L955.7 610.8 L957.1 610.9 L958.6 611.0 L960.1 611.2 L961.6 611.3 L963.1 611.4 L964.6 611.6 L966.1 611.7 L967.6 611.8 L969.1 612.0 L970.6 612.1 L972.1 612.2 L973.6 612.4 L975.1 612.5 L976.6 612.6 L978.1 612.8 L979.6 612.9 L981.0 613.0 L982.5 613.2 L984.0 613.3 L985.5 613.4 L987.0 613.6 L988.5 613.7 L990.0 613.9 L991.3 614.0" stroke="#ff8000"/>
<path d="M215.9 614.7 L217.5 614.4 L218.9 614.0 L220.3 613.4 L221.6 612.6 L222.8 611.8 L223.9 610.8 L225.0 609.8 L226.0 608.7 L226.9 607.5 L227.9 606.3 L228.8 605.1 L229.7 603.9 L230.6 602.7 L231.4 601.4 L232.3 600.2 L233.1 598.9 L234.0 597.7 L234.8 596.4 L235.6 595.2 L236.4 593.9 L237.2 592.6 L237.9 591.3 L238.7 590.0 L239.5 588.7 L240.2 587.4 L240.9 586.1 L241.6 584.8 L242.3 583.5 L243.0 582.2 L243.7 580.8 L244.4 579.5 L245.0 578.1 L245.7 576.8 L246.3 575.4 L246.9 574.1 L247.6 572.7 L248.2 571.3 L248.8 570.0 L249.3 568.6 L249.9 567.2 L250.5 565.8 L251.0 564.4 L251.6 563.0 L252.1 561.6 L252.7 560.2 L253.2 558.8 L253.7 557.4 L254.2 556.0 L254.7 554.6 L255.2 553.2 L255.7 551.8 L256.2 550.3 L256.7 548.9 L257.1 547.5 L257.6 546.1 L258.1 544.6 L258.5 543.2 L259.0 541.8 L259.4 540.3 L259.8 538.9 L260.2 537.4 L260.7 536.0 L261.1 534.6 L261.5 533.1 L261.9 531.7 L262.3 530.2 L262.7 528.8 L263.1 527.3 L263.5 525.9 L263.8 524.4 L264.2 523.0 L264.6 521.5 L265.0 520.1 L265.3 518.6 L265.7 517.2 L266.0 515.7 L266.4 514.3 L266.7 512.8 L267.1 511.3 L267.4 509.9 L267.7 508.4 L268.1 506.9 L268.4 505.5 L268.7 504.0 L269.0 502.5 L269.4 501.1 L269.7 499.6 L270.0 498.1 L270.3 496.7 L270.6 495.2 L270.9 493.7 L271.2 492.3 L271.5 490.8 L271.8 489.3 L272.1 487.9 L272.4 486.4 L272.7 484.9 L273.0 483.4 L273.3 482.0 L273.5 480.5 L273.8 479.0 L274.1 477.5 L274.4 476.1 L274.7 474.6 L275.0 473.1 L275.2 471.6 L275.5 470.2 L275.8 468.7 L276.1 467.2 L276.3 465.7 L276.6 464.3 L276.9 462.8 L277.2 461.3 L277.4 459.8 L277.7 458.4 L278.0 456.9 L278.3 455.4 L278.5 453.9 L278.8 452.5 L279.1 451.0 L279.3 449.5 L279.6 448.0 L279.9 446.6 L280.2 445.1 L280.4 443.6 L280.7 442.1 L281.0 440.7 L281.2 439.2 L281.5 437.7 L281.8 436.2 L282.0 434.8 L282.3 433.3 L282.6 431.8 L282.8 430.3 L283.1 428.9 L283.4 427.4 L283.6 425.9 L283.9 424.4 L284.2 423.0 L284.4 421.5 L284.7 420.0 L285.0 418.5 L285.2 417.1 L285.5 415.6 L285.8 414.1 L286.0 412.6 L286.3 411.2 L286.5 409.7 L286.8 408.2 L287.1 406.7 L287.3 405.3 L287.6 403.8 L287.9 402.3 L288.1 400.8 L288.4 399.4 L288.7 397.9 L288.9 396.4 L289.2 394.9 L289.4 393.5 L289.7 392.0 L290.0 390.5 L290.2 389.0 L290.5 387.6 L290.8 386.1 L291.0 384.6 L291.3 383.1 L291.6 381.7 L291.8 380.2 L292.1 378.7 L292.3 377.2 L292.6 375.8 L292.9 374.3 L293.1 372.8 L293.4 371.3 L293.7 369.8 L293.9 368.4 L294.2 366.9 L294.4 365.4 L294.7 363.9 L295.0 362.5 L295.2 361.0 L295.5 359.5 L295.8 358.0 L296.0 356.6 L296.3 355.1 L296.6 353.6 L296.8 352.1 L297.1 350.7 L297.4 349.2 L297.6 347.7 L297.9 346.2 L298.2 344.8 L298.4 343.3 L298.7 341.8 L299.0 340.3 L299.2 338.9 L299.5 337.4 L299.8 335.9 L300.0 334.4 L300.3 333.0 L300.6 331.5 L300.8 330.0 L301.1 328.5 L301.4 327.0 L301.6 325.6 L301.9 324.1 L302.2 322.6 L302.5 321.1 L302.7 319.7 L303.0 318.2 L303.3 316.7 L303.5 315.2 L303.8 313.8 L304.1 312.3 L304.4 310.8 L304.6 309.3 L304.9 307.8 L305.2 306.4 L305.5 304.9 L305.7 303.4 L306.0 301.9 L306.3 300.5 L306.6 299.0 L306.8 297.5 L307.1 296.0 L307.4 294.6 L307.7 293.1 L308.0 291.6 L308.2 290.1 L308.5 288.6 L308.8 287.2 L309.1 285.7 L309.3 284.2 L309.6 282.7 L309.9 281.3 L310.2 279.8 L310.5 278.3 L310.7 276.8 L311.0 275.3 L311.3 273.9 L311.6 272.4 L311.9 270.9 L312.1 269.4 L312.4 268.0 L312.7 266.5 L313.0 265.0 L313.3 263.5 L313.5 262.1 L313.8 260.6 L314.1 259.1 L314.4 257.6 L314.6 256.2 L314.9 254.7 L315.2 253.2 L315.5 251.7 L315.8 250.3 L316.0 248.8 L316.3 247.3 L316.6 245.8 L316.9 244.4 L317.1 242.9 L317.4 241.4 L317.7 239.9 L318.0 238.5 L318.2 237.0 L318.5 235.5 L318.8 234.0 L319.1 232.6 L319.3 231.1 L319.6 229.6 L319.9 228.2 L320.2 226.7 L320.4 225.2 L320.7 223.7 L321.0 222.3 L321.3 220.8 L321.5 219.3 L321.8 217.9 L322.1 216.4 L322.4 214.9 L322.7 213.4 L322.9 212.0 L323.2 210.5 L323.5 209.0 L323.8 207.6 L324.1 206.1 L324.3 204.6 L324.6 203.2 L324.9 201.7 L325.2 200.2 L325.5 198.8 L325.8 197.3 L326.1 195.8 L326.4 194.4 L326.7 192.9 L327.0 191.4 L327.3 190.0 L327.6 188.5 L327.9 187.1 L328.2 185.6 L328.5 184.1 L328.8 182.7 L329.2 181.2 L329.5 179.7 L329.8 178.3 L330.1 176.8 L330.5 175.4 L330.8 173.9 L331.1 172.4 L331.5 171.0 L331.8 169.5 L332.1 168.1 L332.5 166.6 L332.8 165.1 L333.2 163.7 L333.6 162.2 L333.9 160.8 L334.3 159.3 L334.7 157.9 L335.0 156.4 L335.4 155.0 L335.8 153.5 L336.2 152.1 L336.6 150.6 L337.0 149.1 L337.4 147.7 L337.8 146.2 L338.2 144.8 L338.6 143.4 L339.0 141.9 L339.5 140.5 L339.9 139.0 L340.4 137.6 L340.9 136.2 L341.3 134.7 L341.8 133.3 L342.4 131.9 L342.9 130.5 L343.4 129.1 L344.0 127.7 L344.6 126.4 L345.2 125.0 L345.9 123.6 L346.5 122.3 L347.2 120.9 L347.9 119.6 L348.7 118.3 L349.4 117.0 L350.2 115.7 L351.0 114.4 L351.9 113.2 L352.8 111.9 L353.7 110.7 L354.6 109.5 L355.5 108.3 L356.5 107.1 L357.4 105.9 L358.3 104.7 L359.2 103.5 L360.0 102.3 L360.9 101.1 L361.6 99.9 L362.4 98.7 L363.1 97.5 L363.9 96.3 L364.6 95.1 L365.5 93.9 L366.4 92.7 L367.3 91.5 L368.3 90.3 L369.3 89.1 L370.4 87.9 L371.4 86.8 L372.4 85.6 L373.4 84.4 L374.4 83.3 L375.4 82.1 L376.4 81.0 L377.4 79.9 L378.4 78.8 L379.4 77.7 L380.5 76.7 L381.5 75.6 L382.6 74.6 L383.8 73.6 L385.0 72.6 L386.2 71.7 L387.5 70.8 L388.8 70.0 L390.2 69.3 L391.6 68.8 L393.0 68.6 L394.4 68.7 L395.7 69.0 L397.1 69.6 L398.4 70.4 L399.7 71.3 L400.8 72.3 L401.9 73.4 L403.0 74.4 L403.9 75.5 L404.9 76.6 L405.8 77.7 L406.7 78.8 L407.6 80.0 L408.5 81.1 L409.5 82.3 L410.5 83.5 L411.4 84.7 L412.4 85.9 L413.4 87.1 L414.4 88.4 L415.3 89.6 L416.2 90.8 L417.1 92.0 L418.0 93.3 L418.8 94.5 L419.7 95.7 L420.5 96.9 L421.4 98.1 L422.3 99.3 L423.2 100.5 L424.1 101.7 L425.0 102.9 L425.9 104.0 L426.8 105.2 L427.8 106.4 L428.7 107.5 L429.6 108.7 L430.6 109.9 L431.5 111.1 L432.4 112.2 L433.3 113.4 L434.2 114.6 L435.1 115.8 L436.0 117.1 L436.8 118.3 L437.6 119.6 L438.4 120.8 L439.2 122.1 L440.0 123.4 L440.7 124.7 L441.4 126.0 L442.1 127.4 L442.8 128.7 L443.5 130.0 L444.2 131.4 L444.8 132.7 L445.5 134.1 L446.1 135.5 L446.7 136.8 L447.3 138.2 L447.9 139.6 L448.5 140.9 L449.0 142.3 L449.6 143.7 L450.2 145.1 L450.7 146.4 L451.3 147.8 L451.8 149.2 L452.4 150.6 L452.9 152.0 L453.5 153.4 L454.0 154.7 L454.6 156.1 L455.1 157.5 L455.7 158.9 L456.3 160.3 L456.9 161.7 L457.4 163.1 L458.0 164.5 L458.6 165.9 L459.2 167.3 L459.8 168.6 L460.4 170.0 L461.0 171.4 L461.6 172.8 L462.2 174.2 L462.8 175.6 L463.4 177.0 L464.0 178.4 L464.6 179.8 L465.2 181.2 L465.8 182.6 L466.4 184.0 L467.0 185.4 L467.6 186.8 L468.2 188.2 L468.8 189.6 L469.3 191.0 L469.9 192.3 L470.5 193.7 L471.0 195.1 L471.6 196.5 L472.1 197.9 L472.6 199.3 L473.1 200.7 L473.6 202.1 L474.1 203.5 L474.6 204.8 L475.1 206.2 L475.6 207.6 L476.1 209.0 L476.6 210.4 L477.1 211.8 L477.6 213.1 L478.1 214.5 L478.6 215.9 L479.1 217.3 L479.7 218.7 L480.2 220.1 L480.8 221.4 L481.4 222.8 L482.0 224.2 L482.6 225.6 L483.2 227.0 L483.8 228.3 L484.4 229.7 L485.1 231.1 L485.7 232.5 L486.3 233.9 L487.0 235.2 L487.6 236.6 L488.2 238.0 L488.8 239.4 L489.5 240.8 L490.1 242.2 L490.7 243.5 L491.3 244.9 L491.9 246.3 L492.5 247.7 L493.1 249.1 L493.7 250.5 L494.3 251.9 L494.8 253.3 L495.4 254.7 L496.0 256.0 L496.5 257.4 L497.1 258.8 L497.6 260.2 L498.2 261.6 L498.7 263.0 L499.3 264.4 L499.8 265.8 L500.3 267.2 L500.8 268.6 L501.4 270.0 L501.9 271.4 L502.4 272.8 L502.9 274.2 L503.4 275.6 L503.9 277.0 L504.4 278.5 L504.9 279.9 L505.4 281.3 L505.9 282.7 L506.4 284.1 L506.9 285.5 L507.4 286.9 L507.9 288.3 L508.4 289.7 L508.9 291.1 L509.4 292.5 L510.0 293.9 L510.5 295.3 L511.0 296.7 L511.5 298.1 L512.0 299.5 L512.6 301.0 L513.1 302.4 L513.6 303.8 L514.2 305.2 L514.7 306.6 L515.3 308.0 L515.9 309.4 L516.4 310.8 L517.0 312.1 L517.6 313.5 L518.1 314.9 L518.7 316.3 L519.3 317.7 L519.9 319.1 L520.5 320.5 L521.1 321.9 L521.7 323.2 L522.3 324.6 L522.9 326.0 L523.5 327.4 L524.2 328.7 L524.8 330.1 L525.4 331.4 L526.1 332.8 L526.7 334.2 L527.3 335.5 L528.0 336.8 L528.6 338.2 L529.3 339.5 L530.0 340.9 L530.6 342.2 L531.3 343.5 L532.0 344.9 L532.6 346.2 L533.3 347.5 L534.0 348.8 L534.7 350.2 L535.4 351.5 L536.0 352.8 L536.7 354.1 L537.4 355.5 L538.1 356.8 L538.8 358.1 L539.4 359.5 L540.1 360.8 L540.8 362.1 L541.5 363.5 L542.1 364.8 L542.8 366.2 L543.4 367.6 L544.1 368.9 L544.8 370.3 L545.4 371.7 L546.0 373.1 L546.7 374.5 L547.3 375.8 L547.9 377.2 L548.5 378.6 L549.1 380.0 L549.6 381.4 L550.2 382.8 L550.7 384.2 L551.3 385.7 L551.8 387.1 L552.2 388.5 L552.7 389.9 L553.2 391.3 L553.7 392.7 L554.1 394.1 L554.6 395.5 L555.0 396.9 L555.5 398.3 L556.0 399.7 L556.4 401.1 L556.9 402.6 L557.5 403.9 L558.0 405.3 L558.5 406.7 L559.1 408.1 L559.6 409.5 L560.2 410.9 L560.8 412.3 L561.4 413.6 L562.0 415.0 L562.7 416.4 L563.3 417.7 L564.0 419.1 L564.7 420.4 L565.4 421.7 L566.1 423.1 L566.8 424.4 L567.6 425.7 L568.3 427.0 L569.1 428.3 L569.9 429.6 L570.7 430.9 L571.5 432.2 L572.3 433.4 L573.1 434.7 L573.9 436.0 L574.7 437.3 L575.5 438.5 L576.3 439.8 L577.2 440.9 L578.2 442.1 L579.2 443.2 L580.2 444.2 L581.3 445.2 L582.5 446.2 L583.7 447.1 L584.8 448.0 L586.0 449.0 L587.2 449.9 L588.4 450.8 L589.6 451.8 L590.7 452.8 L591.8 453.9 L592.8 454.9 L593.9 456.0 L594.9 457.1 L595.9 458.2 L596.9 459.4 L597.9 460.5 L598.9 461.6 L599.9 462.7 L601.0 463.7 L602.0 464.8 L603.1 465.9 L604.1 466.9 L605.2 468.0 L606.3 469.0 L607.4 470.1 L608.5 471.1 L609.5 472.2 L610.6 473.2 L611.7 474.3 L612.7 475.3 L613.8 476.4 L614.8 477.5 L615.8 478.6 L616.8 479.7 L617.8 480.8 L618.8 481.9 L619.8 483.1 L620.7 484.2 L621.6 485.4 L622.6 486.6 L623.5 487.8 L624.4 489.0 L625.3 490.2 L626.2 491.4 L627.1 492.6 L628.0 493.8 L628.8 495.0 L629.7 496.2 L630.6 497.4 L631.5 498.6 L632.4 499.8 L633.3 501.0 L634.2 502.2 L635.1 503.4 L636.0 504.6 L636.9 505.8 L637.8 507.0 L638.7 508.2 L639.6 509.4 L640.6 510.5 L641.5 511.7 L642.5 512.8 L643.5 514.0 L644.4 515.1 L645.5 516.2 L646.5 517.3 L647.5 518.4 L648.6 519.5 L649.6 520.6 L650.7 521.6 L651.8 522.6 L653.0 523.7 L654.1 524.6 L655.3 525.6 L656.5 526.5 L657.7 527.4 L659.0 528.2 L660.2 529.0 L661.5 529.7 L662.8 530.3 L664.1 530.9 L665.5 531.4 L666.8 532.0 L668.1 532.5 L669.5 533.2 L670.8 533.8 L672.2 534.6 L673.5 535.4 L674.8 536.2 L676.1 537.1 L677.3 538.0 L678.6 538.9 L679.8 539.8 L680.9 540.7 L682.1 541.6 L683.2 542.6 L684.3 543.6 L685.4 544.6 L686.4 545.6 L687.4 546.7 L688.4 547.8 L689.4 549.0 L690.4 550.1 L691.3 551.3 L692.2 552.6 L693.1 553.8 L694.0 555.1 L694.9 556.4 L695.7 557.7 L696.5 559.0 L697.3 560.2 L698.1 561.5 L698.9 562.6 L699.8 563.8 L700.7 564.9 L701.7 565.9 L702.8 566.8 L704.0 567.7 L705.2 568.6 L706.5 569.4 L707.8 570.1 L709.2 570.8 L710.6 571.5 L712.0 572.2 L713.3 572.9 L714.7 573.5 L716.1 574.2 L717.4 574.8 L718.8 575.5 L720.1 576.2 L721.5 576.8 L722.8 577.5 L724.2 578.2 L725.5 578.9 L726.9 579.6 L728.2 580.3 L729.6 581.0 L730.9 581.6 L732.3 582.3 L733.6 582.9 L735.0 583.4 L736.3 584.0 L737.7 584.5 L739.1 584.9 L740.5 585.4 L741.8 585.9 L743.2 586.4 L744.6 586.9 L746.0 587.4 L747.4 587.9 L748.8 588.4 L750.2 589.0 L751.6 589.6 L753.0 590.1 L754.4 590.7 L755.8 591.3 L757.2 591.9 L758.7 592.5 L760.1 593.0 L761.5 593.6 L763.0 594.2 L764.4 594.7 L765.8 595.3 L767.3 595.8 L768.7 596.3 L770.2 596.8 L771.6 597.2 L773.1 597.6 L774.5 598.0 L776.0 598.3 L777.5 598.6 L778.9 598.8 L780.4 599.0 L781.8 599.1 L783.3 599.2 L784.8 599.4 L786.2 599.5 L787.7 599.6 L789.2 599.7 L790.6 599.9 L792.1 600.0 L793.6 600.2 L795.1 600.4 L796.5 600.6 L798.0 600.8 L799.5 601.0 L801.0 601.2 L802.4 601.4 L803.9 601.7 L805.4 601.9 L806.9 602.2 L808.4 602.4 L809.8 602.6 L811.3 602.9 L812.8 603.1 L814.3 603.4 L815.8 603.6 L817.2 603.9 L818.7 604.1 L820.2 604.3 L821.7 604.6 L823.2 604.8 L824.7 605.0 L826.2 605.3 L827.6 605.5 L829.1 605.7 L830.6 605.9 L832.1 606.2 L833.6 606.4 L835.1 606.6 L836.6 606.8 L838.1 607.0 L839.6 607.2 L841.1 607.4 L842.5 607.7 L844.0 607.9 L845.5 608.1 L847.0 608.2 L848.5 608.4 L850.0 608.6 L851.5 608.8 L853.0 609.0 L854.5 609.2 L856.0 609.4 L857.5 609.5 L859.0 609.7 L860.5 609.9 L861.9 610.0 L863.4 610.2 L864.9 610.4 L866.4 610.5 L867.9 610.7 L869.4 610.8 L870.9 611.0 L872.4 611.1 L873.9 611.3 L875.4 611.4 L876.9 611.5 L878.4 611.7 L879.9 611.8 L881.4 611.9 L882.9 612.0 L884.3 612.2 L885.8 612.3 L887.3 612.4 L888.8 612.5 L890.3 612.6 L891.8 612.7 L893.3 612.8 L894.8 612.9 L896.3 613.0 L897.8 613.1 L899.3 613.2 L900.8 613.3 L902.3 613.4 L903.8 613.5 L905.3 613.5 L906.8 613.6 L908.3 613.7 L909.8 613.8 L911.3 613.9 L912.8 613.9 L914.3 614.0 L915.8 614.1 L917.2 614.1 L918.7 614.2 L920.2 614.3 L921.7 614.3 L923.2 614.4 L924.7 614.4 L926.2 614.5 L927.7 614.5 L929.2 614.6 L930.7 614.6 L932.2 614.7 L933.7 614.7 L935.2 614.7 L936.7 614.8 L938.2 614.8 L939.7 614.9 L941.2 614.9 L942.7 614.9 L944.2 615.0 L945.7 615.0 L947.2 615.0 L948.7 615.0 L950.2 615.1 L951.7 615.1 L953.2 615.1 L954.7 615.1 L956.2 615.1 L957.7 615.2 L959.2 615.2 L960.7 615.2 L962.2 615.2 L963.7 615.2 L965.2 615.2 L966.7 615.2 L968.2 615.2 L969.7 615.2 L971.2 615.2 L972.7 615.2 L974.2 615.2 L975.7 615.3 L977.2 615.3 L978.7 615.3 L980.2 615.3 L981.7 615.2 L983.2 615.2 L984.7 615.2 L986.2 615.2 L987.7 615.2 L989.2 615.2 L990.8 615.2 L991.0 615.2" stroke="#ffff00"/>
<path d="M383.8 614.3 L384.8 613.2 L385.8 612.1 L386.8 611.0 L387.7 609.8 L388.7 608.7 L389.6 607.5 L390.5 606.2 L391.3 605.0 L392.1 603.7 L392.9 602.4 L393.7 601.1 L394.4 599.8 L395.1 598.5 L395.8 597.1 L396.4 595.7 L397.0 594.4 L397.6 593.0 L398.1 591.6 L398.6 590.1 L399.1 588.7 L399.5 587.3 L399.9 585.8 L400.2 584.4 L400.6 582.9 L400.9 581.5 L401.1 580.0 L401.4 578.6 L401.6 577.1 L401.8 575.6 L402.1 574.2 L402.3 572.7 L402.5 571.2 L402.8 569.8 L403.1 568.3 L403.5 566.9 L403.9 565.5 L404.4 564.0 L405.1 562.6 L405.8 561.2 L406.5 559.8 L407.2 558.4 L408.0 557.0 L408.7 555.6 L409.3 554.2 L409.8 552.9 L410.3 551.5 L410.8 550.1 L411.2 548.7 L411.6 547.3 L412.0 545.9 L412.3 544.5 L412.7 543.1 L413.0 541.6 L413.4 540.2 L413.7 538.8 L414.1 537.3 L414.4 535.9 L414.8 534.4 L415.1 532.9 L415.5 531.5 L415.8 530.0 L416.2 528.5 L416.5 527.1 L416.9 525.6 L417.2 524.1 L417.5 522.7 L417.9 521.2 L418.2 519.7 L418.5 518.3 L418.9 516.8 L419.2 515.3 L419.5 513.9 L419.8 512.4 L420.2 510.9 L420.5 509.4 L420.8 508.0 L421.1 506.5 L421.4 505.0 L421.7 503.6 L422.1 502.1 L422.4 500.6 L422.7 499.2 L423.0 497.7 L423.3 496.2 L423.6 494.7 L423.9 493.3 L424.2 491.8 L424.5 490.3 L424.8 488.9 L425.0 487.4 L425.3 485.9 L425.6 484.4 L425.9 483.0 L426.2 481.5 L426.5 480.0 L426.8 478.6 L427.0 477.1 L427.3 475.6 L427.6 474.1 L427.9 472.7 L428.1 471.2 L428.4 469.7 L428.7 468.2 L429.0 466.8 L429.2 465.3 L429.5 463.8 L429.8 462.4 L430.0 460.9 L430.3 459.4 L430.6 457.9 L430.8 456.5 L431.1 455.0 L431.3 453.5 L431.6 452.0 L431.8 450.5 L432.1 449.1 L432.4 447.6 L432.6 446.1 L432.9 444.6 L433.1 443.2 L433.4 441.7 L433.6 440.2 L433.8 438.7 L434.1 437.3 L434.3 435.8 L434.6 434.3 L434.8 432.8 L435.1 431.3 L435.3 429.9 L435.5 428.4 L435.8 426.9 L436.0 425.4 L436.3 423.9 L436.5 422.5 L436.7 421.0 L437.0 419.5 L437.2 418.0 L437.4 416.5 L437.7 415.0 L437.9 413.6 L438.1 412.1 L438.4 410.6 L438.6 409.1 L438.8 407.6 L439.0 406.1 L439.3 404.7 L439.5 403.2 L439.7 401.7 L439.9 400.2 L440.2 398.7 L440.4 397.2 L440.6 395.8 L440.8 394.3 L441.1 392.8 L441.3 391.3 L441.5 389.8 L441.7 388.3 L441.9 386.9 L442.2 385.4 L442.4 383.9 L442.6 382.4 L442.8 380.9 L443.0 379.4 L443.2 377.9 L443.5 376.5 L443.7 375.0 L443.9 373.5 L444.1 372.0 L444.3 370.5 L444.5 369.0 L444.7 367.5 L445.0 366.1 L445.2 364.6 L445.4 363.1 L445.6 361.6 L445.8 360.1 L446.0 358.6 L446.2 357.1 L446.5 355.7 L446.7 354.2 L446.9 352.7 L447.1 351.2 L447.3 349.7 L447.5 348.2 L447.7 346.7 L447.9 345.3 L448.1 343.8 L448.4 342.3 L448.6 340.8 L448.8 339.3 L449.0 337.8 L449.2 336.3 L449.4 334.8 L449.6 333.4 L449.8 331.9 L450.0 330.4 L450.3 328.9 L450.5 327.4 L450.7 325.9 L450.9 324.4 L451.1 323.0 L451.3 321.5 L451.5 320.0 L451.7 318.5 L451.9 317.0 L452.2 315.5 L452.4 314.0 L452.6 312.6 L452.8 311.1 L453.0 309.6 L453.2 308.1 L453.4 306.6 L453.7 305.1 L453.9 303.7 L454.1 302.2 L454.3 300.7 L454.5 299.2 L454.7 297.7 L455.0 296.2 L455.2 294.8 L455.4 293.3 L455.6 291.8 L455.8 290.3 L456.0 288.8 L456.3 287.3 L456.5 285.9 L456.7 284.4 L456.9 282.9 L457.1 281.4 L457.4 279.9 L457.6 278.5 L457.8 277.0 L458.0 275.5 L458.3 274.0 L458.5 272.5 L458.7 271.1 L458.9 269.6 L459.2 268.1 L459.4 266.6 L459.6 265.1 L459.9 263.7 L460.1 262.2 L460.3 260.7 L460.6 259.2 L460.8 257.7 L461.0 256.3 L461.3 254.8 L461.5 253.3 L461.7 251.8 L462.0 250.4 L462.2 248.9 L462.5 247.4 L462.7 245.9 L463.0 244.4 L463.2 243.0 L463.5 241.5 L463.7 240.0 L464.0 238.5 L464.2 237.1 L464.5 235.6 L464.7 234.1 L465.0 232.6 L465.3 231.2 L465.5 229.7 L465.8 228.2 L466.1 226.7 L466.4 225.3 L466.6 223.8 L466.9 222.3 L467.2 220.8 L467.5 219.3 L467.8 217.9 L468.1 216.4 L468.3 214.9 L468.6 213.4 L468.9 212.0 L469.2 210.5 L469.5 209.0 L469.8 207.5 L470.1 206.0 L470.4 204.6 L470.7 203.1 L471.0 201.6 L471.3 200.1 L471.6 198.7 L471.8 197.2 L472.1 195.7 L472.4 194.2 L472.7 192.7 L473.0 191.3 L473.2 189.8 L473.5 188.3 L473.7 186.8 L474.0 185.3 L474.2 183.9 L474.5 182.4 L474.7 180.9 L474.9 179.4 L475.1 177.9 L475.4 176.4 L475.6 175.0 L475.8 173.5 L476.0 172.0 L476.2 170.5 L476.3 169.0 L476.5 167.5 L476.7 166.1 L476.9 164.6 L477.1 163.1 L477.3 161.6 L477.5 160.1 L477.7 158.7 L478.0 157.2 L478.2 155.7 L478.4 154.2 L478.7 152.8 L478.9 151.3 L479.2 149.8 L479.4 148.3 L479.7 146.9 L480.0 145.4 L480.4 143.9 L480.7 142.5 L481.0 141.0 L481.4 139.5 L481.8 138.1 L482.2 136.6 L482.6 135.2 L483.0 133.7 L483.4 132.3 L483.9 130.8 L484.3 129.4 L484.7 127.9 L485.2 126.5 L485.6 125.0 L486.1 123.6 L486.6 122.2 L487.0 120.8 L487.5 119.3 L488.0 117.9 L488.5 116.5 L488.9 115.1 L489.4 113.7 L489.9 112.2 L490.4 110.8 L490.9 109.4 L491.3 108.0 L491.8 106.6 L492.3 105.3 L492.8 103.9 L493.3 102.5 L493.8 101.1 L494.4 99.7 L494.9 98.4 L495.5 97.0 L496.0 95.6 L496.6 94.3 L497.3 92.9 L497.9 91.6 L498.6 90.2 L499.3 88.9 L500.0 87.6 L500.8 86.2 L501.6 84.9 L502.5 83.6 L503.3 82.3 L504.2 81.0 L505.2 79.8 L506.1 78.6 L507.0 77.4 L508.0 76.3 L508.9 75.2 L509.9 74.2 L510.9 73.3 L512.1 72.4 L513.3 71.6 L514.6 70.8 L515.9 70.1 L517.3 69.5 L518.8 69.0 L520.2 68.5 L521.7 68.2 L523.1 68.0 L524.6 67.9 L526.0 67.9 L527.5 68.1 L528.9 68.5 L530.2 68.9 L531.6 69.5 L532.9 70.3 L534.2 71.1 L535.5 71.9 L536.7 72.8 L537.9 73.8 L539.0 74.8 L540.1 75.9 L541.1 77.0 L542.1 78.2 L543.0 79.4 L543.9 80.6 L544.7 81.8 L545.4 83.1 L546.1 84.4 L546.8 85.8 L547.4 87.1 L548.0 88.5 L548.5 89.9 L549.1 91.3 L549.6 92.7 L550.2 94.0 L550.8 95.4 L551.4 96.8 L552.0 98.2 L552.6 99.5 L553.2 100.9 L553.9 102.2 L554.5 103.6 L555.2 104.9 L555.8 106.3 L556.4 107.7 L557.0 109.1 L557.6 110.4 L558.2 111.8 L558.7 113.2 L559.3 114.6 L559.8 116.0 L560.4 117.4 L560.9 118.8 L561.4 120.2 L562.0 121.6 L562.5 123.0 L563.1 124.4 L563.6 125.8 L564.2 127.2 L564.8 128.6 L565.4 130.0 L566.0 131.3 L566.6 132.7 L567.2 134.0 L567.9 135.4 L568.6 136.7 L569.2 138.0 L569.9 139.4 L570.5 140.7 L571.2 142.1 L571.8 143.4 L572.4 144.8 L573.0 146.2 L573.6 147.6 L574.2 149.0 L574.7 150.4 L575.3 151.8 L575.8 153.2 L576.4 154.6 L576.9 156.0 L577.5 157.4 L578.1 158.8 L578.7 160.2 L579.4 161.5 L580.0 162.8 L580.8 164.1 L581.5 165.4 L582.2 166.7 L583.0 168.0 L583.8 169.2 L584.7 170.5 L585.5 171.7 L586.4 172.9 L587.3 174.1 L588.1 175.3 L589.1 176.5 L590.0 177.7 L590.9 178.9 L591.8 180.0 L592.8 181.2 L593.7 182.4 L594.7 183.6 L595.6 184.7 L596.6 185.9 L597.6 187.1 L598.5 188.3 L599.4 189.5 L600.4 190.7 L601.3 191.9 L602.2 193.1 L603.1 194.3 L603.9 195.5 L604.8 196.8 L605.6 198.0 L606.4 199.3 L607.1 200.5 L607.9 201.8 L608.6 203.1 L609.4 204.4 L610.1 205.7 L610.8 207.0 L611.5 208.3 L612.2 209.6 L612.9 210.9 L613.6 212.2 L614.2 213.6 L614.9 214.9 L615.6 216.2 L616.2 217.6 L616.9 218.9 L617.5 220.3 L618.2 221.7 L618.8 223.0 L619.4 224.4 L620.0 225.8 L620.7 227.1 L621.3 228.5 L621.9 229.9 L622.5 231.2 L623.1 232.6 L623.7 234.0 L624.3 235.4 L624.9 236.8 L625.5 238.1 L626.1 239.5 L626.7 240.9 L627.2 242.3 L627.8 243.7 L628.4 245.1 L629.0 246.5 L629.5 247.8 L630.1 249.2 L630.7 250.6 L631.2 252.0 L631.8 253.4 L632.3 254.8 L632.9 256.2 L633.4 257.6 L633.9 259.0 L634.5 260.4 L635.0 261.8 L635.6 263.2 L636.1 264.6 L636.6 266.0 L637.1 267.4 L637.7 268.8 L638.2 270.2 L638.7 271.6 L639.2 273.1 L639.7 274.5 L640.2 275.9 L640.7 277.3 L641.2 278.7 L641.7 280.1 L642.2 281.5 L642.8 282.9 L643.2 284.3 L643.7 285.7 L644.2 287.2 L644.7 288.6 L645.2 290.0 L645.7 291.4 L646.2 292.8 L646.7 294.2 L647.2 295.6 L647.7 297.1 L648.2 298.5 L648.7 299.9 L649.2 301.3 L649.7 302.7 L650.2 304.1 L650.6 305.6 L651.1 307.0 L651.6 308.4 L652.1 309.8 L652.6 311.2 L653.1 312.6 L653.6 314.0 L654.1 315.5 L654.6 316.9 L655.1 318.3 L655.6 319.7 L656.1 321.1 L656.6 322.5 L657.1 323.9 L657.6 325.3 L658.1 326.8 L658.6 328.2 L659.1 329.6 L659.6 331.0 L660.2 332.4 L660.7 333.8 L661.2 335.2 L661.7 336.6 L662.2 338.1 L662.7 339.5 L663.2 340.9 L663.7 342.3 L664.3 343.7 L664.8 345.1 L665.3 346.5 L665.8 347.9 L666.4 349.3 L666.9 350.7 L667.4 352.1 L667.9 353.5 L668.5 354.9 L669.0 356.3 L669.5 357.7 L670.1 359.2 L670.6 360.6 L671.1 362.0 L671.7 363.4 L672.2 364.8 L672.7 366.2 L673.3 367.6 L673.8 369.0 L674.4 370.4 L674.9 371.8 L675.5 373.2 L676.0 374.5 L676.6 375.9 L677.1 377.3 L677.7 378.7 L678.2 380.1 L678.8 381.5 L679.3 382.9 L679.9 384.3 L680.5 385.7 L681.0 387.1 L681.6 388.5 L682.2 389.9 L682.7 391.3 L683.3 392.6 L683.9 394.0 L684.5 395.4 L685.1 396.8 L685.6 398.2 L686.2 399.6 L686.8 400.9 L687.4 402.3 L688.0 403.7 L688.6 405.1 L689.2 406.5 L689.8 407.8 L690.4 409.2 L691.0 410.6 L691.6 412.0 L692.2 413.3 L692.8 414.7 L693.4 416.1 L694.0 417.4 L694.6 418.8 L695.2 420.2 L695.8 421.5 L696.5 422.9 L697.1 424.3 L697.7 425.6 L698.3 427.0 L699.0 428.4 L699.6 429.7 L700.2 431.1 L700.9 432.4 L701.5 433.8 L702.1 435.1 L702.8 436.5 L703.4 437.9 L704.1 439.2 L704.7 440.6 L705.4 441.9 L706.0 443.2 L706.7 444.6 L707.4 445.9 L708.0 447.3 L708.7 448.6 L709.4 450.0 L710.0 451.3 L710.7 452.6 L711.4 454.0 L712.1 455.3 L712.8 456.6 L713.5 458.0 L714.1 459.3 L714.8 460.6 L715.5 462.0 L716.2 463.3 L716.9 464.6 L717.6 465.9 L718.4 467.3 L719.1 468.6 L719.8 469.9 L720.5 471.2 L721.2 472.5 L721.9 473.8 L722.7 475.2 L723.4 476.5 L724.1 477.8 L724.9 479.1 L725.6 480.4 L726.3 481.7 L727.1 483.0 L727.8 484.3 L728.6 485.6 L729.4 486.9 L730.1 488.2 L730.9 489.5 L731.7 490.8 L732.4 492.0 L733.2 493.3 L734.0 494.6 L734.8 495.9 L735.6 497.1 L736.4 498.4 L737.2 499.7 L738.1 500.9 L738.9 502.2 L739.7 503.4 L740.6 504.7 L741.4 505.9 L742.3 507.1 L743.1 508.3 L744.0 509.6 L744.9 510.8 L745.8 512.0 L746.7 513.2 L747.5 514.4 L748.4 515.6 L749.3 516.8 L750.2 518.0 L751.1 519.2 L752.0 520.3 L752.9 521.5 L753.8 522.7 L754.7 523.9 L755.6 525.1 L756.5 526.3 L757.4 527.5 L758.3 528.7 L759.2 530.0 L760.1 531.2 L761.0 532.4 L761.9 533.7 L762.8 534.9 L763.7 536.1 L764.7 537.3 L765.6 538.4 L766.6 539.5 L767.6 540.6 L768.6 541.7 L769.7 542.7 L770.8 543.6 L772.0 544.6 L773.1 545.5 L774.3 546.4 L775.5 547.2 L776.7 548.1 L777.9 549.0 L779.2 549.9 L780.4 550.8 L781.6 551.7 L782.8 552.6 L784.0 553.6 L785.2 554.5 L786.4 555.5 L787.6 556.5 L788.7 557.5 L789.8 558.5 L790.9 559.5 L792.0 560.4 L793.1 561.4 L794.2 562.3 L795.4 563.1 L796.7 563.9 L798.0 564.7 L799.3 565.4 L800.6 566.1 L802.0 566.8 L803.3 567.5 L804.6 568.3 L805.9 569.1 L807.2 569.9 L808.4 570.7 L809.7 571.5 L810.9 572.4 L812.1 573.2 L813.4 574.0 L814.6 574.9 L815.9 575.7 L817.1 576.6 L818.4 577.4 L819.6 578.2 L820.9 579.0 L822.2 579.7 L823.5 580.4 L824.8 581.0 L826.2 581.6 L827.6 582.1 L829.0 582.6 L830.5 583.0 L832.0 583.3 L833.5 583.5 L835.0 583.8 L836.5 584.1 L837.9 584.4 L839.4 584.7 L840.8 585.1 L842.2 585.6 L843.6 586.1 L845.0 586.7 L846.3 587.3 L847.6 588.0 L849.0 588.7 L850.3 589.5 L851.6 590.3 L852.9 591.1 L854.2 591.9 L855.4 592.7 L856.7 593.5 L858.0 594.3 L859.3 595.1 L860.6 595.9 L861.9 596.6 L863.3 597.3 L864.6 597.9 L866.0 598.4 L867.4 599.0 L868.8 599.4 L870.2 599.9 L871.6 600.3 L873.0 600.6 L874.5 601.0 L875.9 601.3 L877.4 601.6 L878.9 601.8 L880.3 602.1 L881.8 602.3 L883.3 602.6 L884.8 602.8 L886.3 603.0 L887.8 603.2 L889.3 603.5 L890.7 603.7 L892.2 603.9 L893.7 604.2 L895.2 604.4 L896.7 604.7 L898.2 604.9 L899.7 605.2 L901.2 605.4 L902.6 605.7 L904.1 605.9 L905.6 606.2 L907.1 606.4 L908.6 606.7 L910.1 606.9 L911.6 607.2 L913.0 607.4 L914.5 607.7 L916.0 607.9 L917.5 608.2 L919.0 608.4 L920.5 608.6 L921.9 608.9 L923.4 609.1 L924.9 609.3 L926.4 609.6 L927.9 609.8 L929.4 610.0 L930.9 610.2 L932.3 610.4 L933.8 610.6 L935.3 610.8 L936.8 611.0 L938.3 611.1 L939.8 611.3 L941.3 611.5 L942.7 611.6 L944.2 611.8 L945.7 611.9 L947.2 612.0 L948.7 612.2 L950.2 612.3 L951.7 612.4 L953.2 612.5 L954.6 612.6 L956.1 612.7 L957.6 612.8 L959.1 612.9 L960.6 613.0 L962.1 613.1 L963.6 613.2 L965.1 613.3 L966.6 613.4 L968.1 613.5 L969.6 613.6 L971.1 613.7 L972.6 613.8 L974.1 613.9 L975.6 614.0 L977.1 614.1 L978.6 614.2 L980.1 614.3 L981.6 614.4 L983.1 614.6 L984.6 614.7 L986.1 614.9 L987.6 615.0 L989.1 615.2 L990.6 615.3 L991.3 615.4" stroke="#ff0000"/>
</g></g>
<g class="tl" filter="url(#soft)">
<text transform="translate(151,627.2) scale(1,1.08)" text-anchor="end">0.0</text>
<text transform="translate(151,517.2) scale(1,1.08)" text-anchor="end">0.2</text>
<text transform="translate(151,407.3) scale(1,1.08)" text-anchor="end">0.4</text>
<text transform="translate(151,297.3) scale(1,1.08)" text-anchor="end">0.6</text>
<text transform="translate(151,187.4) scale(1,1.08)" text-anchor="end">0.8</text>
<text transform="translate(151,77.4) scale(1,1.08)" text-anchor="end">1.0</text>
<text transform="translate(288.3,665) scale(1,1.07)" text-anchor="middle">500</text>
<text transform="translate(523.1,665) scale(1,1.07)" text-anchor="middle">600</text>
<text transform="translate(757.9,665) scale(1,1.07)" text-anchor="middle">700</text>
<text transform="translate(992.7,665) scale(1,1.07)" text-anchor="middle">800</text>
</g>
<line x1="641" y1="67.3" x2="714" y2="67.3" stroke="#00ff00" stroke-width="8.2" stroke-linecap="round"/>
<text x="720" y="79.8" class="leg" filter="url(#soft)">BF<tspan class="sub" dy="6.5">2</tspan><tspan dy="-6.5">-poly in CH</tspan><tspan class="sub" dy="6.5">2</tspan><tspan dy="-6.5">Cl</tspan><tspan class="sub" dy="6.5">2</tspan></text>
<line x1="641" y1="114.0" x2="714" y2="114.0" stroke="#ff8000" stroke-width="8.2" stroke-linecap="round"/>
<text x="720" y="126.5" class="leg" filter="url(#soft)">BPh<tspan class="sub" dy="6.5">2</tspan><tspan dy="-6.5">-poly in CH</tspan><tspan class="sub" dy="6.5">2</tspan><tspan dy="-6.5">Cl</tspan><tspan class="sub" dy="6.5">2</tspan></text>
<line x1="641" y1="160.6" x2="714" y2="160.6" stroke="#ffff00" stroke-width="8.2" stroke-linecap="round"/>
<text x="720" y="173.1" class="leg" filter="url(#soft)">BF<tspan class="sub" dy="6.5">2</tspan><tspan dy="-6.5">-poly in film state</tspan></text>
<line x1="641" y1="207.3" x2="714" y2="207.3" stroke="#ff0000" stroke-width="8.2" stroke-linecap="round"/>
<text x="720" y="219.8" class="leg" filter="url(#soft)">BPh<tspan class="sub" dy="6.5">2</tspan><tspan dy="-6.5">-poly in film state</tspan></text>

<defs>
  <filter id="bl1" x="-20%" y="-20%" width="140%" height="140%"><feGaussianBlur stdDeviation="1.1"/></filter>
  <filter id="bl15" x="-20%" y="-20%" width="140%" height="140%"><feGaussianBlur stdDeviation="1.6"/></filter>
  <filter id="bl3" x="-30%" y="-60%" width="160%" height="220%"><feGaussianBlur stdDeviation="3"/></filter>
  <filter id="btxt"><feGaussianBlur stdDeviation="0.35"/></filter>
  <clipPath id="insclip"><rect x="810" y="282" width="147.5" height="251"/></clipPath>
  <linearGradient id="tealL" x1="0" y1="0" x2="0" y2="1">
   <stop offset="0" stop-color="#0a3a46"/>
   <stop offset="0.12" stop-color="#072e36"/>
   <stop offset="1" stop-color="#04222a"/>
  </linearGradient>
  <linearGradient id="redL" x1="0" y1="0" x2="0" y2="1">
   <stop offset="0" stop-color="#a83440"/>
   <stop offset="0.1" stop-color="#5e1a22"/>
   <stop offset="0.35" stop-color="#421218"/>
   <stop offset="1" stop-color="#300c10"/>
  </linearGradient>
</defs>
<g clip-path="url(#insclip)">
 <rect x="809.5" y="281.5" width="148.5" height="252" fill="#03030a"/>
 <g filter="url(#bl3)">
  <path d="M824 378 Q850 394 876 376 L876 392 Q850 402 824 392 Z" fill="#0c2e90" opacity="0.75"/>
  <path d="M895 380 Q920 394 946 380 L946 395 Q920 403 895 395 Z" fill="#6c48a4" opacity="0.85"/>
 </g>
 <g filter="url(#bl15)">
  <path d="M821 392 Q850 404 878 390 L878 509 L821 509 Z" fill="url(#tealL)"/>
  <rect x="821" y="392" width="5" height="116" fill="#13707e" opacity="0.55"/>
  <rect x="873" y="390" width="4" height="118" fill="#0f5866" opacity="0.35"/>
  <path d="M892 395 Q920 406 948 395 L948 511 L892 511 Z" fill="url(#redL)"/>
  <rect x="892" y="512" width="56" height="16" fill="#2a0a12" opacity="0.85"/>
 </g>
 <g filter="url(#bl1)">
  <!-- divider glass -->
  <rect x="883" y="286" width="8" height="244" fill="#1c1834"/>
  <rect x="885.5" y="286" width="2.5" height="244" fill="#4a4070" opacity="0.55"/>
  <!-- outer walls -->
  <rect x="815" y="288" width="1.8" height="240" fill="#18228e" opacity="0.45"/>
  <rect x="951.5" y="288" width="4" height="240" fill="#40309a" opacity="0.75"/>
  <!-- right red walls above liquid -->
  <rect x="890.5" y="290" width="3" height="102" fill="#d03a66" opacity="0.85"/>
  <rect x="945.5" y="290" width="3.5" height="102" fill="#c83c78" opacity="0.8"/>
  <!-- top rim -->
  <rect x="811" y="284" width="146" height="2.5" fill="#1a1c80"/>
  <rect x="811" y="289" width="146" height="1.3" fill="#261c66" opacity="0.8"/>
  <rect x="813" y="284" width="13" height="3.5" fill="#2d48f0"/>
  <rect x="878" y="284" width="14" height="3.5" fill="#3440f0"/>
  <rect x="947" y="284" width="9" height="3.5" fill="#4636f0"/>
  <!-- bottom spots -->
  <ellipse cx="820" cy="514" rx="2.5" ry="3.5" fill="#2c3cff" opacity="0.7"/>
  <ellipse cx="819" cy="523" rx="2.5" ry="2.5" fill="#2030d0" opacity="0.6"/>
  <ellipse cx="889" cy="511" rx="2.5" ry="2.5" fill="#d050e0" opacity="0.7"/>
  <ellipse cx="950" cy="513" rx="2.5" ry="3.5" fill="#b050e0" opacity="0.7"/>
  <rect x="890" y="509.6" width="57" height="2.6" fill="#ff3628" opacity="0.85"/>
  <!-- meniscus bands -->
  <path d="M822 390.5 Q850 404.5 877 388.5" stroke="#19a4c4" stroke-width="5.5" fill="none" opacity="0.85"/>
  <path d="M893 395.5 Q920 406.5 947 395.5" stroke="#ff9cc4" stroke-width="6" fill="none" opacity="0.9"/>
  <path d="M894 394 Q920 404.5 946 394" stroke="#ffd0e8" stroke-width="2.2" fill="none" opacity="0.7"/>
  <ellipse cx="875" cy="384" rx="2.5" ry="3" fill="#bfefff" opacity="0.7"/>
  <!-- red edges in liquid -->
  <rect x="891.5" y="400" width="3" height="110" fill="#ff4a3a" opacity="0.8"/>
  <rect x="945.5" y="400" width="3" height="110" fill="#ff4a3a" opacity="0.8"/>
 </g>
 <g filter="url(#btxt)">
 <text x="820.5" y="329" class="ins">BF<tspan class="isub" dy="5">2</tspan><tspan dy="-5">-</tspan></text>
 <text x="820.5" y="359.5" class="ins">poly</text>
 <text x="898.5" y="329" class="ins">BPh<tspan class="isub" dy="5">2</tspan><tspan dy="-5">-</tspan></text>
 <text x="898.5" y="359.5" class="ins">poly</text>
 </g>
</g>

<g filter="url(#soft)">
<text class="ttl" x="582" y="741" text-anchor="middle">Wavenumber (nm)</text>
<text class="ttl" transform="translate(53,347.2) rotate(-90)" text-anchor="middle">Nomalized Intensity</text>
</g>
</svg>
</body></html>
